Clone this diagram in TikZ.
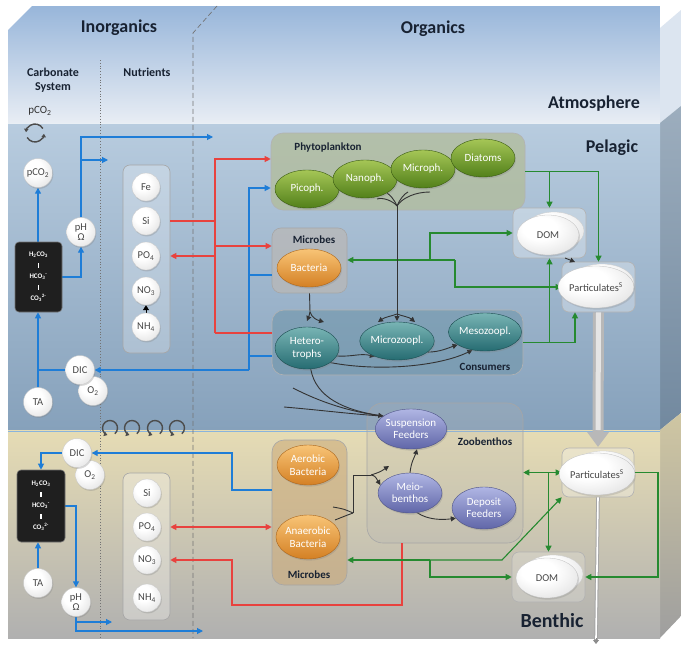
\documentclass[tikz,border=0pt]{standalone}
\usepackage{fontspec}
\setmainfont{Carlito}
\usetikzlibrary{arrows.meta,shapes.geometric,shadows}

\definecolor{ink}{RGB}{24,34,50}
\definecolor{flowblue}{RGB}{30,125,215}
\definecolor{flowred}{RGB}{232,66,62}
\definecolor{flowgreen}{RGB}{38,138,48}
\definecolor{atmtop}{RGB}{152,182,218}
\definecolor{atmbot}{RGB}{232,237,244}
\definecolor{peltop}{RGB}{184,204,223}
\definecolor{pelbot}{RGB}{134,161,187}
\definecolor{bentop}{RGB}{230,220,180}
\definecolor{benbot}{RGB}{176,176,176}
\definecolor{phytotop}{RGB}{165,198,86}
\definecolor{phytobot}{RGB}{82,128,26}
\definecolor{tealtop}{RGB}{120,180,180}
\definecolor{tealbot}{RGB}{38,108,114}
\definecolor{ambertop}{RGB}{248,196,118}
\definecolor{amberbot}{RGB}{212,128,36}
\definecolor{violtop}{RGB}{176,182,228}
\definecolor{violbot}{RGB}{96,102,168}

\pgfdeclareradialshading{pearlshade}{\pgfpoint{-8bp}{10bp}}{%
  color(0bp)=(white); color(14bp)=(white); color(32bp)=(black!9);
  color(46bp)=(black!27); color(60bp)=(black!40); color(80bp)=(black!40)}

\pgfdeclarelayer{faces}
\pgfdeclarelayer{groups}
\pgfdeclarelayer{flows}
\pgfsetlayers{faces,groups,flows,main}

\tikzset{
  heading/.style={font=\bfseries\fontsize{18}{20}\selectfont, text=ink, inner sep=0pt},
  colhead/.style={font=\bfseries\fontsize{12}{13.5}\selectfont, text=ink, align=center, inner sep=0pt},
  grouplabel/.style={font=\bfseries\fontsize{11}{12}\selectfont, text=ink, inner sep=0pt},
  sphere/.style={circle, minimum size=29pt, inner sep=0pt, shading=pearlshade,
    draw=black!22, line width=0.3pt, align=center,
    drop shadow={opacity=0.3, shadow xshift=0.8pt, shadow yshift=-1.4pt},
    font=\fontsize{10.5}{10}\selectfont, text=black!72},
  nutrient/.style={sphere, minimum size=28pt},
  carbbox/.style={rectangle, rounded corners=4pt, fill=black!88, draw=black!55, line width=0.6pt,
    minimum width=47pt, minimum height=70pt, inner sep=1pt, align=center, text=white,
    font=\bfseries\fontsize{7}{11}\selectfont},
  organism/.style={ellipse, minimum width=64pt, minimum height=38pt, inner sep=0pt, align=center,
    text=white, font=\fontsize{11}{11.5}\selectfont, line width=0.4pt,
    drop shadow={opacity=0.28, shadow xshift=1pt, shadow yshift=-1.6pt}},
  phytocell/.style={organism, top color=phytotop, bottom color=phytobot, draw=phytobot!70!black},
  tealcell/.style={organism, top color=tealtop, bottom color=tealbot, draw=tealbot!70!black},
  ambercell/.style={organism, top color=ambertop, bottom color=amberbot, draw=amberbot!80!black},
  violcell/.style={organism, top color=violtop, bottom color=violbot, draw=violbot!80!black},
  pool/.style={ellipse, minimum width=62pt, minimum height=40pt, inner sep=0pt, shading=pearlshade,
    draw=black!25, line width=0.3pt, text=black!72, font=\fontsize{10.5}{11}\selectfont,
    drop shadow={opacity=0.25, shadow xshift=1pt, shadow yshift=-1.6pt}},
  poolback/.style={ellipse, minimum width=60pt, minimum height=38pt, inner sep=0pt,
    shading=pearlshade, draw=black!20, line width=0.3pt},
  groupbox/.style={rectangle, rounded corners=9pt, inner sep=0pt, line width=0.6pt},
  flowline/.style={line width=1.1pt},
  headed/.style={-{Triangle[length=6pt,width=6pt]}},
  bothheaded/.style={{Triangle[length=6pt,width=6pt]}-{Triangle[length=6pt,width=6pt]}},
  bline/.style={flowline, draw=flowblue},
  barrow/.style={bline, headed},
  rline/.style={flowline, draw=flowred},
  rarrow/.style={rline, headed},
  rboth/.style={rline, bothheaded},
  gline/.style={flowline, draw=flowgreen},
  garrow/.style={gline, headed},
  gboth/.style={gline, bothheaded},
  kline/.style={line width=0.9pt, draw=black!80},
  karrow/.style={kline, -{Triangle[length=5pt,width=5pt]}},
  swirl/.style={line width=1.4pt, draw=black!70, -{Triangle[length=3.5pt,width=4.5pt]}},
}

\begin{document}
\begin{tikzpicture}[x=1pt,y=-1pt]
\useasboundingbox (0,0) rectangle (681,645);

% ---------- the box: front face, side face, dividers ----------
\begin{pgfonlayer}{faces}
  \fill[white] (0,0) rectangle (681,645);
  % side face
  \fill[atmbot!85!atmtop] (660,28) -- (681,10) -- (681,106) -- (660,123) -- cycle;
  \shade[top color=peltop!85!black, bottom color=pelbot!85!black]
    (660,123) -- (681,106) -- (681,413) -- (660,430) -- cycle;
  \shade[top color=bentop!90!black, bottom color=benbot!90!black]
    (660,430) -- (681,413) -- (681,616) -- (660,638) -- cycle;
  % front face
  \shade[top color=atmtop, bottom color=atmbot]
    (8,30) -- (32,6) -- (660,6) -- (660,123) -- (8,123) -- cycle;
  \shade[top color=peltop, bottom color=pelbot] (8,123) rectangle (660,430);
  \shade[top color=bentop, bottom color=benbot] (8,430) rectangle (660,638);
  \draw[white, opacity=0.7, line width=1pt] (8,123) -- (660,123);
  \draw[peltop!70!flowblue, line width=1pt] (8,431) -- (660,431);
  % column dividers
  \draw[black!55, dotted, line width=0.8pt] (100,60) -- (100,638);
  \draw[black!55, line width=0.7pt, dash pattern=on 5pt off 3pt] (217,6) -- (193,33) -- (193,638);
\end{pgfonlayer}

% ---------- headings ----------
\node[heading] (inorg) at (119,28) {Inorganics};
\node[heading] (org) at (433,29) {Organics};
\node[heading] (atmos) at (594,104) {Atmosphere};
\node[heading] (pelagic) at (612,148) {Pelagic};
\node[heading, font=\bfseries\fontsize{20}{22}\selectfont] (benthic) at (552,621) {Benthic};
\node[colhead] (carbhead) at (53,80) {Carbonate\\System};
\node[colhead] (nuthead) at (147,72) {Nutrients};

% ---------- gas exchange and mixing swirls ----------
\node[font=\fontsize{11}{12}\selectfont, text=black!80] (gasco2) at (40,111) {pCO\textsubscript{2}};
\coordinate (gasloop) at (35,133);
\draw[swirl] ([shift={(30:9pt)}]gasloop) arc[start angle=30, end angle=175, radius=9pt];
\draw[swirl] ([shift={(210:9pt)}]gasloop) arc[start angle=210, end angle=355, radius=9pt];
\foreach \vx [count=\vi] in {110,132,155,177} {
  \coordinate (mix\vi) at (\vx,428);
  \draw[swirl] ([shift={(-50:7.5pt)}]mix\vi) arc[start angle=-50, end angle=250, radius=7.5pt];
}

% ---------- group boxes ----------
\begin{pgfonlayer}{groups}
  \node[groupbox, rounded corners=7pt, fill=white, fill opacity=0.25, draw=black!35,
        minimum width=47pt, minimum height=188pt] (nutp) at (146.5,259) {};
  \node[groupbox, rounded corners=7pt, fill=white, fill opacity=0.3, draw=black!35,
        minimum width=47pt, minimum height=147pt] (nutb) at (146.5,546.5) {};
  \node[groupbox, rounded corners=12pt, fill=phytotop!45!gray!70, fill opacity=0.75,
        draw=black!30, minimum width=254pt, minimum height=77pt] (phytobox) at (398,171.5) {};
  \node[groupbox, fill=black!28, fill opacity=0.8, draw=black!35,
        minimum width=75pt, minimum height=65pt] (micp) at (309.5,260.5) {};
  \node[groupbox, rounded corners=12pt, fill=tealbot!30!pelbot, fill opacity=0.5, draw=black!30,
        minimum width=251pt, minimum height=65pt] (cons) at (397.5,342.5) {};
  \node[groupbox, rounded corners=7pt, fill=white, fill opacity=0.3, draw=black!30,
        minimum width=73pt, minimum height=50pt] (domp) at (549.5,233) {};
  \node[groupbox, rounded corners=7pt, fill=white, fill opacity=0.3, draw=black!30,
        minimum width=73pt, minimum height=50pt] (partp) at (598.5,287) {};
  \node[groupbox, rounded corners=16pt, fill=black!30, fill opacity=0.22, draw=black!35,
        minimum width=156pt, minimum height=140pt] (zoob) at (445,473) {};
  \node[groupbox, rounded corners=12pt, fill=amberbot!45!bentop!80!gray, fill opacity=0.55, draw=black!35,
        minimum width=75pt, minimum height=145pt] (micb) at (309.5,512.5) {};
  \node[groupbox, rounded corners=7pt, fill=white, fill opacity=0.3, draw=black!30,
        minimum width=72pt, minimum height=49pt] (partb) at (598,472.5) {};
  \node[groupbox, rounded corners=7pt, fill=white, fill opacity=0.2, draw=black!30,
        minimum width=73pt, minimum height=50pt] (domb) at (548.5,577) {};
\end{pgfonlayer}

\node[grouplabel] (phytolab) at (328,148) {Phytoplankton};
\node[grouplabel] (miclabp) at (314,240) {Microbes};
\node[grouplabel] (conslab) at (485,367) {Consumers};
\node[grouplabel] (zooblab) at (485,442) {Zoobenthos};
\node[grouplabel] (miclabb) at (309,575) {Microbes};

% ---------- pelagic inorganic pools ----------
\node[sphere] (pco2) at (38,173) {pCO\textsubscript{2}};
\node[sphere, font=\fontsize{10.5}{9.5}\selectfont] (ph) at (81,232) {pH\\Ω};
\node[carbbox] (carb) at (38.5,277)
  {H\textsubscript{2}CO\textsubscript{3}\\\rule{1.3pt}{5pt}\\HCO\textsubscript{3}\textsuperscript{-}\\\rule{1.3pt}{5pt}\\CO\textsubscript{3}\textsuperscript{2-}};
\node[sphere] (o2) at (93,391) {O\textsubscript{2}};
\node[sphere] (dic) at (80,370) {DIC};
\node[sphere] (ta) at (38,402) {TA};
\node[nutrient] (fe) at (146,187) {Fe};
\node[nutrient] (si) at (146,221) {Si};
\node[nutrient] (po4) at (146,256) {PO\textsubscript{4}};
\node[nutrient] (no3) at (146,291) {NO\textsubscript{3}};
\node[nutrient] (nh4) at (146,327) {NH\textsubscript{4}};

% ---------- benthic inorganic pools ----------
\node[sphere] (o2b) at (90,475) {O\textsubscript{2}};
\node[sphere] (dicb) at (77,453) {DIC};
\node[carbbox, minimum width=48pt, minimum height=72pt] (carbb) at (41,506)
  {H\textsubscript{2}CO\textsubscript{3}\\\rule{1.3pt}{5pt}\\HCO\textsubscript{3}\textsuperscript{-}\\\rule{1.3pt}{5pt}\\CO\textsubscript{3}\textsuperscript{2-}};
\node[sphere] (tab) at (38,583) {TA};
\node[sphere, font=\fontsize{10.5}{9.5}\selectfont] (phb) at (76,602) {pH\\Ω};
\node[nutrient] (sib) at (147,493) {Si};
\node[nutrient] (po4b) at (147,527) {PO\textsubscript{4}};
\node[nutrient] (no3b) at (147,560) {NO\textsubscript{3}};
\node[nutrient] (nh4b) at (147,598) {NH\textsubscript{4}};

% ---------- pelagic organisms and pools ----------
\node[phytocell] (pico) at (307,189) {Picoph.};
\node[phytocell] (nano) at (365,179) {Nanoph.};
\node[phytocell] (microph) at (423,169) {Microph.};
\node[phytocell] (diatoms) at (483,158) {Diatoms};
\node[ambercell] (bact) at (309,268) {Bacteria};
\node[tealcell, minimum height=42pt, font=\fontsize{11}{13}\selectfont] (hetero) at (307,348) {Hetero-\\trophs};
\node[tealcell, minimum width=68pt] (microzoo) at (397,341) {Microzoopl.};
\node[tealcell, minimum width=68pt] (mesozoo) at (485,332) {Mesozoopl.};
\node[poolback] (dompback) at (554,231) {};
\node[pool] (dompool) at (548,235) {DOM};
\node[poolback, minimum width=64pt] (partpback) at (602,283) {};
\node[pool, minimum width=66pt, minimum height=42pt] (partpool) at (596,287) {Particulates\textsuperscript{S}};

% ---------- benthic organisms and pools ----------
\node[violcell, minimum width=66pt, minimum height=40pt, font=\fontsize{11}{12.5}\selectfont] (susp) at (411,429) {Suspension\\Feeders};
\node[violcell, minimum height=40pt, font=\fontsize{11}{12.5}\selectfont] (meio) at (410,493) {Meio-\\benthos};
\node[violcell, minimum height=42pt, font=\fontsize{11}{12.5}\selectfont] (depo) at (484,508) {Deposit\\Feeders};
\node[ambercell, minimum width=62pt, minimum height=40pt, font=\fontsize{11}{12.5}\selectfont] (aerob) at (308,465) {Aerobic\\Bacteria};
\node[ambercell, minimum width=62pt, minimum height=44pt, font=\fontsize{11}{12.5}\selectfont] (anaerob) at (308,537) {Anaerobic\\Bacteria};
\node[poolback, minimum width=64pt] (partbback) at (603,470) {};
\node[pool, minimum width=66pt, minimum height=42pt] (partbpool) at (597,474) {Particulates\textsuperscript{S}};
\node[poolback] (dombback) at (553,574) {};
\node[pool] (dombpool) at (547,578) {DOM};

% ---------- connectors ----------
\begin{pgfonlayer}{flows}
  % carbonate system, water column
  \draw[barrow] (pco2.south |- carb.north) -- (pco2.south);
  \draw[barrow] (carb.east) -| (ph.south);
  \coordinate (atmA) at (213,137);
  \coordinate (atmB) at (108,160);
  \draw[barrow] (ph.north) |- (atmA);
  \draw[barrow] (ph.north |- atmB) -- (atmB);
  \draw[barrow] (ta.north) -- (ta.north |- carb.south);
  \draw[bline] (dic.west) -- (ta.north |- dic.west);
  % DIC exchange with organics
  \coordinate (bjBot) at (249,370);
  \coordinate (bPhy) at ([yshift=-16.5pt]phytobox.west);
  \coordinate (bMic) at ([yshift=-14.5pt]micp.west);
  \coordinate (bCon) at ([yshift=-13.5pt]cons.west);
  \draw[barrow] (bjBot) -- (bPhy -| bjBot) -- (bPhy);
  \draw[barrow] (bjBot) -- (dic.east);
  \draw[bline] (bMic -| bjBot) -- (bMic);
  \draw[bline] (bCon -| bjBot) -- (bCon);
  % nutrient exchange
  \coordinate (rTopJ) at (215,159);
  \coordinate (rBotJ) at (215,333);
  \coordinate (rPhy) at ([yshift=12.5pt]phytobox.west);
  \coordinate (rMic) at ([yshift=14.5pt]micp.west);
  \coordinate (rCon) at ([yshift=9.5pt]cons.west);
  \draw[rarrow] (rBotJ) -- (rTopJ) -- (rPhy);
  \draw[rarrow] (rMic -| rTopJ) -- (rMic);
  \draw[rline] (rBotJ) -- (rCon);
  \draw[rline] (nutp.east |- si.east) -- (si.east -| rTopJ);
  \draw[rarrow] (po4.east -| rTopJ) -- (nutp.east |- po4.east);
  \draw[-{Triangle[length=5pt,width=6pt]}, black, line width=0.8pt] (nh4.north) -- (no3.south);
  % organic matter, water column
  \draw[garrow] (phytobox.east) -| (partp.north);
  \draw[garrow] (phytobox.east -| domp.north) -- (domp.north);
  \coordinate (gA) at (430,260);
  \coordinate (gB) at (455,260);
  \draw[garrow] (gB) -- (gB -| micp.east);
  \draw[garrow] (gA) |- (domp.west);
  \draw[garrow] (gB) |- (partp.west);
  \draw[garrow] (cons.east) -| ([xshift=-23.5pt]partp.south);
  \draw[garrow] (cons.east -| domp.south) -- (domp.south);
  \coordinate (aggA) at (565,258);
  \coordinate (aggB) at (575,262);
  \draw[karrow] (aggA) -- (aggB);
  % grazing in the water column
  \coordinate (treeJ) at (397,206);
  \coordinate (treeK) at (397,314);
  \coordinate (treeL1) at (377,199);
  \coordinate (treeL2) at (387,193);
  \coordinate (treeR1) at (408,192);
  \coordinate (treeR2) at (430,192);
  \draw[kline] (treeJ) .. controls (393,201) and (383,197) .. (treeL1);
  \draw[kline] (treeJ) .. controls (394,199) and (390,195) .. (treeL2);
  \draw[kline] (treeJ) .. controls (400,199) and (404,194) .. (treeR1);
  \draw[kline] (treeJ) .. controls (402,198) and (415,192) .. (treeR2);
  \draw[kline] (treeJ) -- (treeK);
  \coordinate (grazeL) at (378,322);
  \coordinate (grazeM) at (397,321);
  \coordinate (grazeR) at (415,322);
  \draw[karrow] (treeK) .. controls (392,316) and (385,317) .. (grazeL);
  \draw[karrow] (treeK) -- (grazeM);
  \draw[karrow] (treeK) .. controls (402,316) and (409,317) .. (grazeR);
  \coordinate (bacJ) at (310,312);
  \coordinate (bacL) at (307,321);
  \coordinate (bacR) at (324,322);
  \draw[kline] (micp.south) -- (bacJ);
  \draw[karrow] (bacJ) .. controls (309,316) .. (bacL);
  \draw[karrow] (bacJ) .. controls (312,318) and (317,320) .. (bacR);
  \draw[karrow] (hetero.-15) .. controls (352,357) and (360,353) .. (microzoo.215);
  \draw[karrow] (hetero.-32) .. controls (380,372) and (440,366) .. (mesozoo.235);
  \draw[karrow] (microzoo.-20) .. controls (440,352) and (448,348) .. (mesozoo.205);
  % export to suspension feeders
  \coordinate (susIn1) at (293,388);
  \coordinate (susIn2) at (284,407);
  \draw[karrow] (hetero.-80) .. controls (316,398) and (345,410) .. (susp.155);
  \draw[kline] (susIn1) .. controls (320,402) and (350,412) .. (susp.155);
  \draw[kline] (susIn2) .. controls (320,410) and (350,414) .. (susp.155);
  % sinking particulates and burial
  \coordinate (sinkTip) at (598,447);
  \draw[line width=11pt, draw=black!28, -{Triangle[length=15pt,width=21pt]}] (partp.south) -- (sinkTip);
  \draw[line width=5pt, draw=white!90!black] (partp.south) -- ([yshift=17pt]sinkTip);
  \coordinate (burial) at (596,644);
  \draw[line width=3.6pt, draw=black!35] (partb.south) -- ([yshift=4pt]burial);
  \draw[line width=1.6pt, draw=white] (partb.south) -- ([yshift=5pt]burial);
  \draw[-{Triangle[length=4pt,width=6pt]}, black!45, line width=1pt] ([yshift=6pt]burial) -- (burial);
  % benthic grazing
  \draw[karrow] (meio.north) .. controls (411,462) and (415,456) .. ([xshift=6pt]susp.south);
  \draw[karrow] (meio.-70) .. controls (428,520) and (442,520) .. (depo.200);
  \coordinate (mf1) at (333,507);
  \coordinate (mf2) at (335,520);
  \coordinate (mj) at (353,513);
  \coordinate (mk) at (353,475);
  \coordinate (ml) at (371,475);
  \coordinate (mUp) at (389,466);
  \draw[kline] (mf1) .. controls (344,509) .. (mj);
  \draw[kline] (mf2) .. controls (345,516) .. (mj);
  \draw[kline] (mj) -- (mk) -- (ml);
  \draw[karrow] (ml) .. controls (375,476) .. (meio.165);
  \draw[karrow] (ml) .. controls (380,472) .. (mUp);
  % benthic nutrients
  \draw[rboth] (nutb.east |- po4b) -- (micb.west |- po4b);
  \coordinate (rZ) at ([xshift=-43pt]zoob.south);
  \coordinate (rC) at (232,605);
  \draw[rarrow] (rZ) |- (rC) |- (nutb.east |- no3b);
  % benthic carbonate system
  \coordinate (bB) at (232,453);
  \draw[barrow] ([yshift=22.5pt]micb.west) -| (bB) -- (dicb.east);
  \draw[barrow] (dicb.west) -| (carbb.north);
  \draw[barrow] (tab.north) -- (tab.north |- carbb.south);
  \draw[barrow] (carbb.east) -| (phb.north);
  \coordinate (bOut1) at (203,631);
  \coordinate (bOut2) at (112,622);
  \draw[barrow] (phb.south) |- (bOut1);
  \draw[barrow] (phb.south |- bOut2) -- (bOut2);
  % benthic organic matter
  \draw[gboth] (zoob.east |- partb.west) -- (partb.west);
  \draw[garrow] (partb.west -| domb.north) -- (domb.north);
  \coordinate (gR) at (658,472.5);
  \draw[garrow] (partb.east) -- (gR) |- (domb.east);
  \coordinate (gM) at (430,560);
  \coordinate (gN) at (502,560);
  \draw[garrow] (gM) -- (gM -| micb.east);
  \draw[garrow] (gM) -- (gN) -- (partb.south west);
  \draw[garrow] (gM) |- (domb.west);
\end{pgfonlayer}
\end{tikzpicture}
\end{document}
